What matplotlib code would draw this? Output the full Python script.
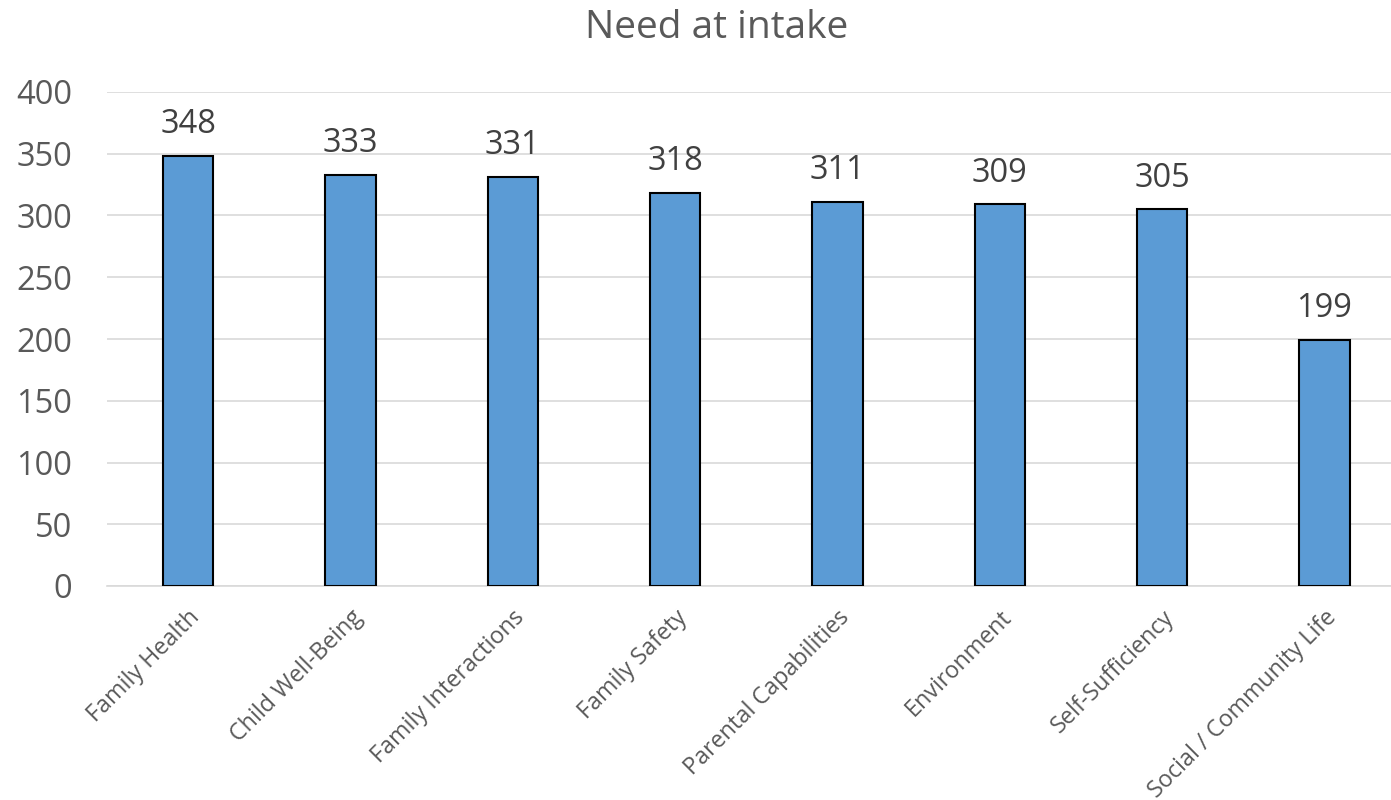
import matplotlib
matplotlib.use("Agg")
import matplotlib.pyplot as plt

categories = ["Family Health", "Child Well-Being", "Family Interactions", "Family Safety",
              "Parental Capabilities", "Environment", "Self-Sufficiency", "Social / Community Life"]
values = [348, 333, 331, 318, 311, 309, 305, 199]
yticks = [0, 50, 100, 150, 200, 250, 300, 350, 400]

plt.rcParams["font.family"] = ["Open Sans", "DejaVu Sans"]
text_col = "#595959"

fig = plt.figure(figsize=(13.91, 8), dpi=100)
ax = fig.add_axes([107 / 1391, 214 / 800, 1284 / 1391, 494 / 800])

x = list(range(len(categories)))
ax.bar(x, values, width=0.31, color="#5B9BD5", edgecolor="black", linewidth=1.5, zorder=3)
for xi, v in zip(x, values):
    ax.text(xi, v + 12, str(v), ha="center", va="bottom", fontsize=23.5, color="#404040")

ax.set_xlim(-0.5, 7.41)
ax.set_ylim(0, 400)
ax.set_yticks(yticks)
ax.set_yticklabels([str(t) for t in yticks], fontsize=23.5, color=text_col)
ax.yaxis.grid(True, color="#D9D9D9", linewidth=1.2, zorder=0)
ax.tick_params(axis="y", length=0, pad=25)
ax.set_xticks(x)
ax.set_xticklabels(categories, rotation=45, ha="right", rotation_mode="anchor",
                   fontsize=16.8, color=text_col)
ax.tick_params(axis="x", length=0, pad=14)
for s in ["top", "right", "left"]:
    ax.spines[s].set_visible(False)
ax.spines["bottom"].set_color("#D9D9D9")
ax.spines["bottom"].set_linewidth(1.2)

fig.text(717 / 1391, 1 - 28 / 800, "Need at intake", ha="center", va="center", fontsize=28, color=text_col)

fig.savefig("out.png", dpi=100)
